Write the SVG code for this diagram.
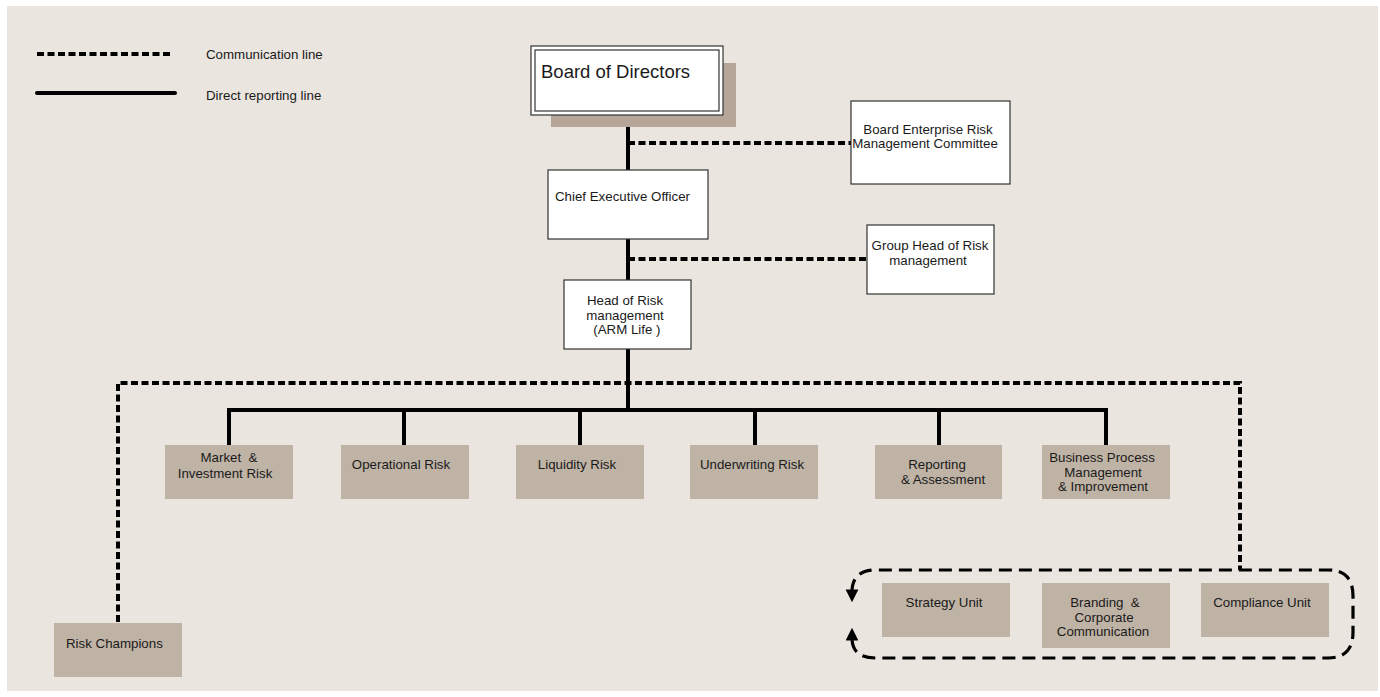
<svg xmlns="http://www.w3.org/2000/svg" width="1380" height="697" viewBox="0 0 1380 697">
<defs>
<style>
text{font-family:"Liberation Sans",Arial,sans-serif;font-size:13.3px;fill:#1a1a1a;white-space:pre}
.c{text-anchor:middle}
.wbox{fill:#ffffff;stroke:#333;stroke-width:1.2}
.gbox{fill:#bfb3a5}
.solid{stroke:#000;stroke-width:4;fill:none}
.dot{stroke:#000;stroke-width:4;fill:none;stroke-dasharray:7 3.5}
.dash{stroke:#000;stroke-width:3.2;fill:none;stroke-dasharray:13 7}
</style>
<marker id="ah" viewBox="0 0 10 10" refX="2" refY="5" markerWidth="4" markerHeight="4" orient="auto-start-reverse" markerUnits="strokeWidth">
<path d="M0,0 L10,5 L0,10 z" fill="#000"/>
</marker>
</defs>
<rect x="7" y="6" width="1371" height="685" fill="#eae5df"/>

<g id="legend">
<line class="dot" x1="37" y1="54" x2="170" y2="54"/>
<line class="solid" x1="37" y1="93" x2="175" y2="93" stroke-linecap="round"/>
<text x="206" y="59">Communication line</text>
<text x="206" y="100">Direct reporting line</text>
</g>

<g id="connectors">
<line class="solid" x1="628" y1="115" x2="628" y2="171"/>
<line class="dot" x1="628" y1="143" x2="851" y2="143"/>
<line class="solid" x1="628" y1="239" x2="628" y2="280"/>
<line class="dot" x1="628" y1="259" x2="867" y2="259"/>
<line class="solid" x1="628" y1="349" x2="628" y2="410"/>
<path class="solid" d="M229,445 V410 H1106 V445"/>
<line class="solid" x1="404" y1="410" x2="404" y2="445"/>
<line class="solid" x1="580" y1="410" x2="580" y2="445"/>
<line class="solid" x1="755" y1="410" x2="755" y2="445"/>
<line class="solid" x1="939" y1="410" x2="939" y2="445"/>
<path class="dot" d="M118,622 V383 H1240 V570"/>
<path class="dash" marker-start="url(#ah)" marker-end="url(#ah)" d="M852,592 Q852,570 876,570 L1328,570 Q1353,570 1353,596 L1353,632 Q1353,658 1328,658 L876,658 Q852,658 852,638"/>
</g>

<g id="board">
<rect x="551" y="63" width="185" height="64" fill="#b5a699"/>
<rect x="531" y="46" width="192" height="69" fill="#fff" stroke="#333" stroke-width="1.2"/>
<rect x="535" y="50" width="184" height="61" fill="none" stroke="#333" stroke-width="1.2"/>
<text x="541" y="78" style="font-size:18.5px">Board of Directors</text>
</g>

<g id="berm">
<rect class="wbox" x="851" y="101" width="159" height="83"/>
<text class="c" x="928" y="134">Board Enterprise Risk</text>
<text class="c" x="925" y="148">Management Committee</text>
</g>

<g id="ceo">
<rect class="wbox" x="548" y="170" width="160" height="69"/>
<text x="555" y="201">Chief Executive Officer</text>
</g>

<g id="grouphead">
<rect class="wbox" x="867" y="225" width="127" height="69"/>
<text class="c" x="930" y="250">Group Head of Risk</text>
<text class="c" x="928" y="265">management</text>
</g>

<g id="headrisk">
<rect class="wbox" x="564" y="280" width="127" height="69"/>
<text class="c" x="625" y="305">Head of Risk</text>
<text class="c" x="625" y="320">management</text>
<text class="c" x="625" y="334"> (ARM Life )</text>
</g>

<g id="market">
<rect class="gbox" x="165" y="445" width="128" height="54"/>
<text class="c" x="229" y="462">Market  &amp;</text>
<text class="c" x="225" y="478">Investment Risk</text>
</g>
<g id="operational">
<rect class="gbox" x="341" y="445" width="128" height="54"/>
<text class="c" x="401" y="469">Operational Risk</text>
</g>
<g id="liquidity">
<rect class="gbox" x="516" y="445" width="128" height="54"/>
<text class="c" x="577" y="469">Liquidity Risk</text>
</g>
<g id="underwriting">
<rect class="gbox" x="690" y="445" width="128" height="54"/>
<text class="c" x="752" y="469">Underwriting Risk</text>
</g>
<g id="reporting">
<rect class="gbox" x="875" y="445" width="127" height="54"/>
<text class="c" x="937" y="469">Reporting</text>
<text class="c" x="943" y="484">&amp; Assessment</text>
</g>
<g id="bpm">
<rect class="gbox" x="1042" y="445" width="128" height="54"/>
<text class="c" x="1102" y="462">Business Process</text>
<text class="c" x="1103" y="477">Management</text>
<text class="c" x="1103" y="491">&amp; Improvement</text>
</g>

<g id="champions">
<rect class="gbox" x="54" y="623" width="128" height="54"/>
<text x="66" y="648">Risk Champions</text>
</g>

<g id="strategy">
<rect class="gbox" x="882" y="583" width="128" height="54"/>
<text class="c" x="944" y="607">Strategy Unit</text>
</g>
<g id="branding">
<rect class="gbox" x="1042" y="583" width="128" height="65"/>
<text class="c" x="1105" y="607">Branding  &amp;</text>
<text class="c" x="1104" y="622">Corporate</text>
<text class="c" x="1103" y="636">Communication</text>
</g>
<g id="compliance">
<rect class="gbox" x="1201" y="583" width="128" height="54"/>
<text class="c" x="1262" y="607">Compliance Unit</text>
</g>
</svg>
